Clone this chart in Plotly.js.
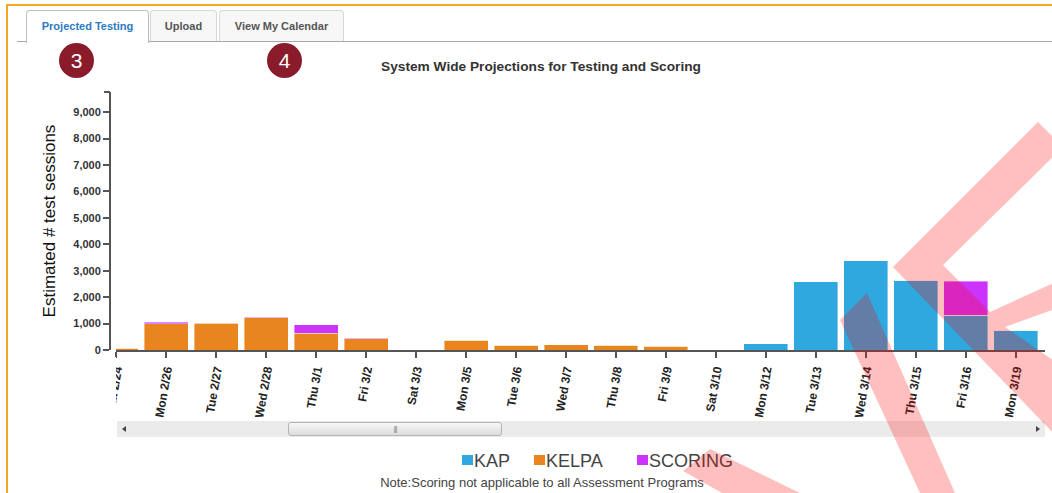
<!DOCTYPE html>
<html>
<head>
<meta charset="utf-8">
<script src="https://cdn.plot.ly/plotly-3.0.1.min.js"></script>
<style>
  html, body { margin:0; padding:0; background:#fff; }
  body { width:1052px; height:493px; overflow:hidden; position:relative; font-family:"Liberation Sans", Arial, sans-serif; }
  .abs { position:absolute; }
  #frame { left:6px; top:4px; width:1052px; height:495px; border-top:2px solid #f6a623; border-left:2px solid #f6a623; }
  #tabline { left:17px; top:41px; width:1040px; height:0; border-top:1px solid #a9a9a9; }
  .tab { top:10px; height:31px; box-sizing:border-box; border:1px solid #d6d6d6; border-bottom:none; border-radius:4px 4px 0 0;
         background:#f7f7f7; color:#555; font-weight:bold; font-size:11px; text-align:center; line-height:31px; }
  .tab.active { background:#fff; color:#2b7bbf; height:33px; border-color:#bdbdbd; }
  .badge { width:35px; height:35px; border-radius:50%; background:#8a1b2b; color:#fff; font-size:21px; text-align:center; line-height:35px; }
  #chart { left:0; top:0; width:1052px; height:493px; }
  #scroll { left:117px; top:421px; width:928px; height:16px; background:#ebebeb; }
  #thumb { left:288px; top:422px; width:214px; height:14px; box-sizing:border-box; border:1px solid #b4b4b4; border-radius:3px;
           background:linear-gradient(#f7f7f7,#dcdcdc); color:#888; font-size:8px; text-align:center; line-height:12px; letter-spacing:-1px; }
  .arrowL { left:122px; top:426px; width:0; height:0; border-top:3px solid transparent; border-bottom:3px solid transparent; border-right:4px solid #444; }
  .arrowR { left:1036px; top:426px; width:0; height:0; border-top:3px solid transparent; border-bottom:3px solid transparent; border-left:4px solid #444; }
  .lgsq { top:455px; width:11px; height:10px; }
  .lgtx { top:452px; font-size:18px; line-height:18px; color:#444; white-space:nowrap; }
  #note { left:42px; width:1000px; top:476px; font-size:13px; line-height:13px; color:#444; text-align:center; }
  #cover { left:60px; top:357px; width:56px; height:70px; background:#fff; }
  #mark { left:0; top:0; pointer-events:none; }
</style>
</head>
<body>
<div id="chart" class="abs"></div>
<div id="cover" class="abs"></div>
<div id="frame" class="abs"></div>
<div id="tabline" class="abs"></div>
<div class="abs tab active" style="left:26px;width:123px;">Projected Testing</div>
<div class="abs tab" style="left:150px;width:67px;">Upload</div>
<div class="abs tab" style="left:219px;width:125px;">View My Calendar</div>
<div class="abs badge" style="left:59px;top:43px;">3</div>
<div class="abs badge" style="left:267px;top:43px;">4</div>
<div id="scroll" class="abs"></div>
<div id="thumb" class="abs">|||</div>
<div class="abs arrowL"></div>
<div class="abs arrowR"></div>
<div id="legend"></div>
<div id="note" class="abs">Note:Scoring not applicable to all Assessment Programs</div>
<svg id="mark" class="abs" width="1052" height="493">
  <path fill="rgba(255,0,0,0.25)" fill-rule="nonzero" d="
    M893,267 L1038,122 L1063,147 L943,265 L1005,327 L1060,365 L1060,440 Z
    M990,312 L1060,280 L1060,307 L1005,327 Z
    M840,320 L867,293 L955,493 L920,493 Z
    M683,471 L710,449 L800,493 L722,493 Z"/>
</svg>
<script>
// ---- data ----
const categories = ["Sat 2/24","Mon 2/26","Tue 2/27","Wed 2/28","Thu 3/1","Fri 3/2","Sat 3/3","Mon 3/5","Tue 3/6","Wed 3/7","Thu 3/8","Fri 3/9","Sat 3/10","Mon 3/12","Tue 3/13","Wed 3/14","Thu 3/15","Fri 3/16","Mon 3/19"];
const seriesNames = ["KAP","KELPA","SCORING"];
const seriesColors = ["#2fa7df","#e8851f","#cc33ff"];
const kap     = [0,0,0,0,0,0,0,0,0,0,0,0,0,240,2580,3380,2635,1310,755];
const kelpa   = [60,1000,1010,1220,630,420,0,360,185,200,175,135,0,0,0,0,0,0,0];
const scoring = [0,50,20,20,330,20,0,0,0,0,0,10,0,0,0,0,0,1300,0];
const yTickVals = [0,1000,2000,3000,4000,5000,6000,7000,8000,9000];
const chartTitle = "System Wide Projections for Testing and Scoring";
const yTitle = "Estimated # test sessions";

const FONT = "Liberation Sans, Arial, sans-serif";
const values = [kap, kelpa, scoring];
const traces = seriesNames.map((n, i) => ({
  type: "bar", name: n, x: categories, y: values[i],
  marker: { color: seriesColors[i], line: { color: "rgba(255,255,255,0.5)", width: 0.8 } },
  hoverinfo: "x+y+name"
}));

// legend (HTML)
const lgLeft = [462, 534, 637];
const lg = document.getElementById("legend");
seriesNames.forEach((n, i) => {
  const sq = document.createElement("div");
  sq.className = "abs lgsq"; sq.style.left = lgLeft[i] + "px"; sq.style.background = seriesColors[i];
  const tx = document.createElement("div");
  tx.className = "abs lgtx"; tx.style.left = (lgLeft[i] + 12) + "px"; tx.textContent = n;
  lg.appendChild(sq); lg.appendChild(tx);
});

const plotW = 1052 - 110 - 7;
const layout = {
  width: 1052, height: 493,
  margin: { l: 110, r: 7, t: 92, b: 143 },
  paper_bgcolor: "rgba(0,0,0,0)", plot_bgcolor: "rgba(0,0,0,0)",
  barmode: "stack", bargap: 0.12, showlegend: false,
  font: { family: FONT },
  title: { text: chartTitle, xref: "container", yref: "container", x: 541/1052, xanchor: "center",
           y: 1 - 66/493, yanchor: "middle", font: { family: FONT, size: 13.7, color: "#333", weight: "bold" } },
  xaxis: { type: "category", domain: [6/plotW, 1], range: [-0.006, 18.586], showline: true, linecolor: "#555", linewidth: 2,
           ticks: "outside", ticklen: 6, tickwidth: 1.5, tickcolor: "#555", tickangle: -80,
           tickfont: { family: FONT, size: 12, color: "#222", weight: "bold" }, showgrid: false, zeroline: false, fixedrange: true },
  yaxis: { anchor: "free", position: 0, range: [0, 9760], tickvals: yTickVals, tickformat: ",", showline: true, linecolor: "#555", linewidth: 2,
           ticks: "outside", ticklen: 6, tickwidth: 1.5, tickcolor: "#555",
           tickfont: { family: FONT, size: 11, color: "#333", weight: "bold" }, showgrid: false, zeroline: false, fixedrange: true,
           title: { text: yTitle, font: { family: FONT, size: 17, color: "#111" }, standoff: 12 } },
  shapes: [
    { type: "line", xref: "paper", yref: "paper", x0: -6/plotW, x1: 0, y0: 1, y1: 1, line: { color: "#555", width: 2 } }
  ]
};
Plotly.newPlot("chart", traces, layout, { displayModeBar: false, staticPlot: false });
</script>
</body>
</html>
